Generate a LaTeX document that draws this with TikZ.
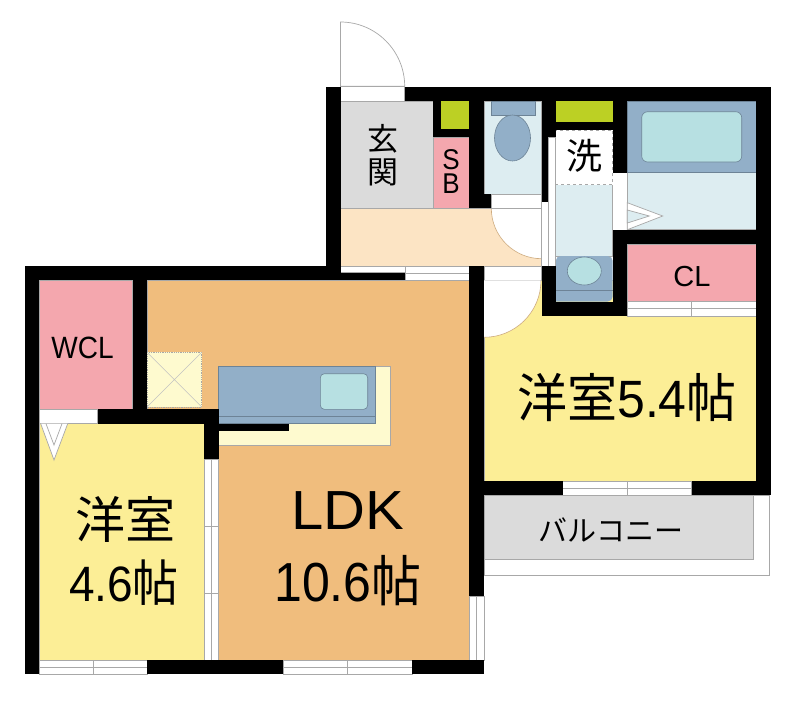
\documentclass[tikz,border=0pt]{standalone}
\usepackage{fontspec}
\setmainfont{Liberation Sans}
\newfontfamily\cjk{Noto Sans CJK JP}
\definecolor{ldkcol}{HTML}{F0BD7D}
\definecolor{roomcol}{HTML}{FCEE96}
\definecolor{pinkcol}{HTML}{F4A7AE}
\definecolor{graycol}{HTML}{DBDBDB}
\definecolor{hallcol}{HTML}{FCE4C4}
\definecolor{greencol}{HTML}{BCD024}
\definecolor{bluecol}{HTML}{92AFC8}
\definecolor{aquacol}{HTML}{B7E0E2}
\definecolor{palecol}{HTML}{DDEDF1}
\definecolor{creamcol}{HTML}{FEFACF}
\definecolor{linecol}{HTML}{A8A8A8}
\tikzset{wall/.style={fill=black}}
\tikzset{room/.style={draw=linecol, line width=0.7pt}}
\tikzset{opening/.style={fill=white, draw=linecol, line width=0.7pt}}
\tikzset{fixture/.style={draw=bluecol!75!black, line width=0.6pt}}
\tikzset{label/.style={inner sep=0pt, align=center, text=black}}
\newcommand{\labelsize}[1]{\fontsize{#1}{#1}\selectfont}
\begin{document}
\begin{tikzpicture}[x=1pt, y=-1pt]
    \useasboundingbox (0,0) rectangle (802,705);

    % balcony
    \draw[opening] (484,495.3) rectangle (769.3,575.3);
    \draw[room, fill=graycol] (484,495.3) rectangle (753.3,559.3);

    % rooms
    \draw[room, fill=ldkcol] (147,280.3) rectangle (469.7,409.3);
    \draw[room, fill=ldkcol, draw=none] (218.7,405) rectangle (469.7,660.3);
    \draw[room] (469.7,280.3) -- (469.7,660.3) -- (218.7,660.3) -- (218.7,459.3);
    \draw[room, fill=roomcol] (39.3,423.7) rectangle (204.3,660.3);
    \draw[room, fill=roomcol] (484,280.3) rectangle (756.3,481.3);
    \draw[room, fill=pinkcol] (39.3,280.3) rectangle (132.7,409.3);
    \draw[room, fill=pinkcol] (627.3,244.3) rectangle (756.3,301.5);
    \draw[room, fill=graycol] (340.5,101) rectangle (433.3,208.3);
    \draw[room, fill=pinkcol] (433.3,137.3) rectangle (469.3,208.3);
    \fill[greencol] (441,101) rectangle (469.3,129.3);
    \fill[greencol] (555.7,101.3) rectangle (612.7,122.3);
    \draw[room, fill=hallcol] (340.5,208.3) rectangle (541.7,266);

    % toilet
    \draw[room, fill=palecol] (484,101) rectangle (541.7,194);
    \draw[fixture, fill=bluecol] (491.3,101) rectangle (535,115.5);
    \draw[fixture, fill=bluecol] (512.5,138) ellipse (18 and 23);

    % wash room
    \draw[room, fill=palecol] (555.7,130) rectangle (612.7,256);
    \draw[draw=linecol, dashed, fill=white, line width=0.6pt] (555.7,130) rectangle (612.7,184.5);
    \fill[bluecol, rounded corners=5pt] (555.7,301.5) -- (555.7,256) -- (612.7,256) -- (612.7,301.5) [sharp corners] -- cycle;
    \draw[fixture] (555.7,290.3) -- (612.7,290.3);
    \draw[fixture, fill=aquacol] (584.3,271) ellipse (17 and 14);

    % bath
    \draw[room, fill=palecol] (627.3,172.7) rectangle (756.3,229.7);
    \draw[fixture, fill=bluecol] (627.3,101.3) rectangle (756.3,172.7);
    \draw[fixture, fill=aquacol, rounded corners=6pt] (641.7,111.7) rectangle (741.7,162);
    \fill[white] (612.7,172.7) rectangle (627.3,229.7);
    \draw[opening] (627.3,202.7) -- (662.7,216) -- (627.3,229.7) -- cycle;
    \draw[room, fill=palecol] (627.3,210) -- (649.3,216) -- (627.3,223) -- cycle;

    % kitchen
    \draw[room, fill=creamcol] (218.7,366.7) rectangle (390.7,445.3);
    \draw[fixture, fill=bluecol] (218.7,366.7) rectangle (375.7,423.7);
    \draw[fixture] (218.7,416.3) -- (375.7,416.3);
    \draw[fixture, fill=aquacol, rounded corners=4pt] (320.3,373.7) rectangle (367.7,409.3);
    \draw[draw=linecol, densely dotted, fill=creamcol, line width=0.8pt] (147,352.3) rectangle (201.7,407);
    \draw[draw=linecol!70, line width=0.5pt] (147,352.3) -- (201.7,407) (147,407) -- (201.7,352.3);

    % doors
    \draw[opening] (340.5,86.3) -- (340.5,22) .. controls (375.9,22) and (404.7,50.9) .. (404.7,86.3) -- cycle;
    \draw[opening] (340.5,86.3) rectangle (404.7,101);
    \draw[opening] (491.3,194) rectangle (541.7,208.3);
    \fill[white] (491.3,208.3) .. controls (491.3,236.1) and (513.9,258.7) .. (541.7,258.7) -- (541.7,208.3) -- cycle;
    \draw[draw=ldkcol!70!gray, line width=0.6pt] (491.3,208.3) .. controls (491.3,236.1) and (513.9,258.7) .. (541.7,258.7);
    \draw[room] (491.3,208.3) -- (541.7,208.3) -- (541.7,258.7);
    \draw[opening] (484,266) rectangle (541,280.3);
    \fill[white] (541,280.3) .. controls (541,311.8) and (515.5,337.3) .. (484,337.3) -- (484,280.3) -- cycle;
    \draw[draw=ldkcol!70!gray, line width=0.6pt] (541,280.3) .. controls (541,311.8) and (515.5,337.3) .. (484,337.3);
    \draw[opening] (39.3,409.3) rectangle (97.7,423.7);
    \draw[opening] (40.7,423.7) -- (54,460) -- (67.7,423.7);
    \draw[room] (46,423.7) -- (54,445) -- (62,423.7);
    \draw[opening] (541.7,201.7) rectangle (548.3,266);
    \draw[opening] (548.3,137) rectangle (555.7,266);

    % windows
    \draw[opening] (340.5,266) rectangle (405,272.7);
    \draw[opening] (405,266) rectangle (469.3,280.3);
    \draw[room] (405,273) -- (469.3,273);
    \draw[opening] (627.3,301.5) rectangle (756.3,316);
    \draw[room] (627.3,308.7) -- (756.3,308.7) (691.7,301.5) -- (691.7,316);
    \draw[opening] (562.7,481.3) rectangle (691.7,495.3);
    \draw[room] (562.7,488.3) -- (691.7,488.3) (627.3,481.3) -- (627.3,495.3);
    \draw[opening] (39.3,660.3) rectangle (147,674.3);
    \draw[room] (39.3,667.3) -- (147,667.3) (93.3,660.3) -- (93.3,674.3);
    \draw[opening] (283,660.3) rectangle (412,674.3);
    \draw[room] (283,667.3) -- (412,667.3) (347.7,660.3) -- (347.7,674.3);
    \draw[opening] (469.7,596) rectangle (484,660.3);
    \draw[room] (476.8,596) -- (476.8,660.3);
    \draw[opening] (204.3,459.3) rectangle (218.7,660.3);
    \draw[room] (211.7,459.3) -- (211.7,660.3) (204.3,526.7) -- (218.7,526.7) (204.3,593.3) -- (218.7,593.3);

    % walls
    \fill[wall] (326,86.5) rectangle (340.5,280.3);
    \fill[wall] (404.7,86.5) rectangle (770.7,101.3);
    \fill[wall] (756.3,86.5) rectangle (770.7,495.3);
    \fill[wall] (433.3,101) rectangle (441,137.3);
    \fill[wall] (433.3,129.3) rectangle (469.3,137.3);
    \fill[wall] (469.3,101) rectangle (484,208.3);
    \fill[wall] (484,194) rectangle (491.3,208.3);
    \fill[wall] (541.7,101) rectangle (548.3,201.7);
    \fill[wall] (548.3,101) rectangle (555.7,137);
    \fill[wall] (555.7,122.3) rectangle (612.7,130);
    \fill[wall] (612.7,101) rectangle (627.3,172.7);
    \fill[wall] (612.7,229.7) rectangle (627.3,316);
    \fill[wall] (612.7,229.7) rectangle (770.7,244.3);
    \fill[wall] (541.7,266) rectangle (555.7,316);
    \fill[wall] (541.7,301.5) rectangle (627.3,316);
    \fill[wall] (25,266) rectangle (340.5,280.3);
    \fill[wall] (340.5,272.7) rectangle (405,280.3);
    \fill[wall] (25,266) rectangle (39.3,674.3);
    \fill[wall] (132.7,280.3) rectangle (147,423.7);
    \fill[wall] (97.7,409.3) rectangle (218.7,423.7);
    \fill[wall] (204.3,423.7) rectangle (218.7,459.3);
    \fill[wall] (218.7,423.7) rectangle (289,431);
    \fill[wall] (469.3,266) rectangle (484,596);
    \fill[wall] (484,481.3) rectangle (562.7,495.3);
    \fill[wall] (691.7,481.3) rectangle (770.7,495.3);
    \fill[wall] (147,660.3) rectangle (283,674.3);
    \fill[wall] (412,660.3) rectangle (484,674.3);

    % labels
    \node[label, font=\cjk\labelsize{31}] (genkan-top) at (383,139) {玄};
    \node[label, font=\cjk\labelsize{31}] (genkan-bottom) at (383,172.5) {関};
    \node[label, font=\fontsize{26}{22}\selectfont, yscale=1.1] (sb) at (451,171.5) {S\\B};
    \node[label, font=\cjk\labelsize{36}] (wash) at (584.5,156) {洗};
    \node[label, font=\labelsize{29}] (cl) at (692,277) {CL};
    \node[label, font=\labelsize{28}, yscale=1.1] (wcl) at (82.5,348) {WCL};
    \node[label, font=\labelsize{50}, yscale=1.05] (west-room) at (627,398) {{\cjk 洋室}5.4{\cjk 帖}};
    \node[label, font=\cjk\labelsize{50}] (east-room) at (125,519) {洋室};
    \node[label, font=\labelsize{46}, yscale=1.08] (east-size) at (124,583) {4.6{\cjk 帖}};
    \node[label, font=\labelsize{58}, yscale=0.95] (ldk) at (348,511) {LDK};
    \node[label, font=\labelsize{50}, yscale=1.1] (ldk-size) at (348,581) {10.6{\cjk 帖}};
    \node[label, font=\cjk\labelsize{29}] (balcony) at (611,530) {バルコニー};
\end{tikzpicture}
\end{document}
